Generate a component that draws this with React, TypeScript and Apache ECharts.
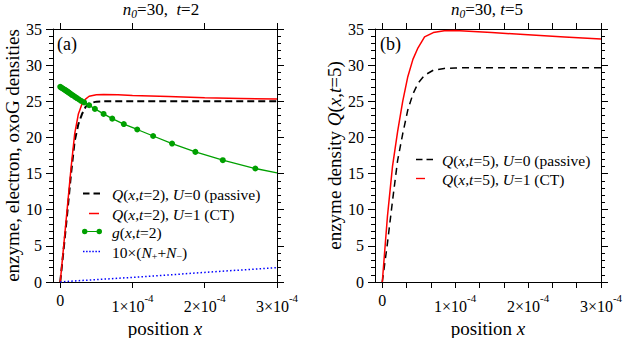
import React, { useEffect, useRef } from 'react';
import * as echarts from 'echarts';

const FONT = 'Liberation Serif';

// positions in units of 1e-4
const xMajorTicks = [0, 1, 2, 3];
const xThirdTicks = [0, 1 / 3, 2 / 3, 1, 4 / 3, 5 / 3, 2, 7 / 3, 8 / 3, 3];

// panel (a), t = 2
const passiveA_x = [0, 0.05, 0.1, 0.15, 0.2, 0.25, 0.3, 0.35, 0.4, 0.5, 0.6, 1.0, 2.0, 3.0];
const passiveA_y = [0, 4.8, 9.8, 15.0, 19.5, 21.8, 23.2, 24.2, 24.7, 24.95, 25.0, 25.0, 25.0, 25.0];

const ctA_x = [0, 0.05, 0.1, 0.15, 0.2, 0.25, 0.3, 0.35, 0.4, 0.5, 0.6, 0.8, 1.0, 1.5, 2.0, 2.5, 3.0];
const ctA_y = [0, 5.2, 10.5, 15.8, 20.5, 23.2, 24.6, 25.3, 25.7, 25.9, 25.95, 25.9, 25.8, 25.65, 25.5, 25.4, 25.3];

const gA_x = [0, 0.015, 0.03, 0.045, 0.06, 0.075, 0.09, 0.105, 0.12, 0.14, 0.16, 0.18, 0.205, 0.23, 0.26, 0.29, 0.33, 0.4, 0.48, 0.6, 0.72, 0.88, 1.066, 1.286, 1.548, 1.87, 2.25, 2.7, 3.0];
const gA_y = [27.0, 26.9, 26.8, 26.7, 26.6, 26.5, 26.4, 26.3, 26.2, 26.05, 25.9, 25.8, 25.6, 25.45, 25.25, 25.05, 24.85, 24.45, 23.95, 23.25, 22.6, 21.85, 21.1, 20.2, 19.15, 18.0, 16.85, 15.7, 15.1];

const nA_x = [0, 0.1, 0.25, 0.5, 1.0, 1.5, 2.0, 2.5, 3.0];
const nA_y = [0, 0.08, 0.18, 0.33, 0.64, 0.98, 1.33, 1.66, 1.98];

// panel (b), t = 5
const passiveB_x = [0, 0.07, 0.14, 0.21, 0.28, 0.35, 0.42, 0.49, 0.58, 0.7, 0.85, 1.0, 1.5, 3.0];
const passiveB_y = [0, 5.3, 11.2, 16.8, 20.5, 23.8, 26.0, 27.5, 28.6, 29.3, 29.55, 29.62, 29.65, 29.65];

const ctB_x = [0, 0.07, 0.14, 0.21, 0.28, 0.35, 0.42, 0.49, 0.58, 0.7, 0.85, 1.0, 1.5, 2.0, 2.5, 3.0];
const ctB_y = [0, 9.0, 16.0, 20.8, 25.0, 28.4, 30.8, 32.4, 33.9, 34.5, 34.75, 34.8, 34.5, 34.2, 33.9, 33.6];

const zip = (xs: number[], ys: number[]) => xs.map((x, i) => [x, ys[i]]);

const NAME_PA = 'Q(x,t=2), U=0 (passive)';
const NAME_CA = 'Q(x,t=2), U=1 (CT)';
const NAME_GA = 'g(x,t=2)';
const NAME_NA = '10x(N+ + N-)';
const NAME_PB = 'Q(x,t=5), U=0 (passive)';
const NAME_CB = 'Q(x,t=5), U=1 (CT)';

const ICON_DASH_BOLD = 'path://M0,0H6.5V2H0ZM10.5,0H17V2H10.5Z';
const ICON_DASH_THIN = 'path://M0,0H6.5V1.5H0ZM10.5,0H17V1.5H10.5Z';
const ICON_SOLID = 'path://M0,0H10V1.5H0Z';
const ICON_DOTS = 'path://M0,0h1.5v1.5h-1.5ZM3.1,0h1.5v1.5h-1.5ZM6.2,0h1.5v1.5h-1.5ZM9.3,0h1.5v1.5h-1.5ZM12.4,0h1.5v1.5h-1.5ZM15.5,0h1.5v1.5h-1.5Z';
const ICON_DOTLINE = 'path://M0,3A3,3 0 1 0 6,3A3,3 0 1 0 0,3ZM6,2.4H16V3.6H6ZM16,3A3,3 0 1 0 22,3A3,3 0 1 0 16,3Z';

const LFS = 15.5;
const legendRich = {
  r: { fontFamily: FONT, fontSize: LFS, lineHeight: 15, verticalAlign: 'top', color: '#000' },
  i: { fontFamily: FONT, fontSize: LFS, lineHeight: 15, fontStyle: 'italic', verticalAlign: 'top', color: '#000' },
  sub: { fontFamily: FONT, fontSize: 10, lineHeight: 10, padding: [7, 0, 0, 0], verticalAlign: 'top', color: '#000' },
  sp1: { width: 7, fontSize: LFS, lineHeight: 15, verticalAlign: 'top' },
  sp2: { width: 8, fontSize: LFS, lineHeight: 15, verticalAlign: 'top' },
  sp3: { width: 5, fontSize: LFS, lineHeight: 15, verticalAlign: 'top' },
  sp4: { width: 4, fontSize: LFS, lineHeight: 15, verticalAlign: 'top' },
  sp5: { width: 12, fontSize: LFS, lineHeight: 15, verticalAlign: 'top' },
};

const legendText: Record<string, string> = {
  [NAME_PA]: '{sp1| }{i|Q}{r|(}{i|x}{r|,}{i|t}{r|=2), }{i|U}{r|=0 (passive)}',
  [NAME_CA]: '{sp2| }{i|Q}{r|(}{i|x}{r|,}{i|t}{r|=2), }{i|U}{r|=1 (CT)}',
  [NAME_GA]: '{sp3| }{i|g}{r|(}{i|x}{r|,}{i|t}{r|=2)}',
  [NAME_NA]: '{sp1| }{r|10×(}{i|N}{sub|+}{r|+}{i|N}{sub|−}{r|)}',
  [NAME_PB]: '{sp4| }{i|Q}{r|(}{i|x}{r|,}{i|t}{r|=5), }{i|U}{r|=0 (passive)}',
  [NAME_CB]: '{sp5| }{i|Q}{r|(}{i|x}{r|,}{i|t}{r|=5), }{i|U}{r|=1 (CT)}',
};

const mkLegend = (name: string, left: number, top: number, itemWidth: number, icon: string) => ({
  data: [name],
  left,
  top,
  itemWidth,
  itemHeight: 14,
  padding: 0,
  icon,
  selectedMode: false,
  formatter: (n: string) => legendText[n],
  textStyle: { fontFamily: FONT, fontSize: LFS, color: '#000', rich: legendRich },
});

const xLabelFmt = (v: number) =>
  Math.abs(v) < 1e-9 ? '{z|0}' : `{m|${Math.round(v)}×10}{sup|-4}`;

const axisLineStyle = { show: true, lineStyle: { color: '#000', width: 1 } };

const nameRich = {
  r: { fontFamily: FONT, fontSize: 19, color: '#000' },
  i: { fontFamily: FONT, fontSize: 19, fontStyle: 'italic', color: '#000' },
};

const mkX = (gridIndex: number, position: 'top' | 'bottom', ticks: number[], labels: boolean) => ({
  type: 'value',
  gridIndex,
  position,
  min: -0.1,
  max: 3.0,
  axisLine: { ...axisLineStyle, onZero: false },
  splitLine: { show: false },
  axisTick: { show: true, length: 6, customValues: ticks, lineStyle: { color: '#000' } },
  axisLabel: labels
    ? {
        show: true,
        customValues: xMajorTicks,
        formatter: xLabelFmt,
        margin: 10,
        color: '#000',
        fontFamily: FONT,
        fontSize: 16,
        rich: {
          z: { fontFamily: FONT, fontSize: 16, lineHeight: 16, verticalAlign: 'top', color: '#000' },
          m: { fontFamily: FONT, fontSize: 16, lineHeight: 16, padding: [6, 0, 0, 0], verticalAlign: 'top', color: '#000' },
          sup: { fontFamily: FONT, fontSize: 11, lineHeight: 11, verticalAlign: 'top', color: '#000' },
        },
      }
    : { show: false },
  name: labels ? '{r|position }{i|x}' : '',
  nameLocation: 'middle',
  nameGap: 29,
  nameTextStyle: { fontFamily: FONT, fontSize: 19, color: '#000', rich: nameRich },
});

const mkY = (gridIndex: number, position: 'left' | 'right', name: string, nameGap: number) => ({
  type: 'value',
  gridIndex,
  position,
  min: 0,
  max: 35,
  interval: 5,
  axisLine: { ...axisLineStyle, onZero: false },
  splitLine: { show: false },
  axisTick: { show: true, length: 7, lineStyle: { color: '#000' } },
  minorTick: { show: true, splitNumber: 5, length: 4, lineStyle: { color: '#000' } },
  minorSplitLine: { show: false },
  axisLabel: position === 'left'
    ? { show: true, margin: 11, color: '#000', fontFamily: FONT, fontSize: 16 }
    : { show: false },
  name,
  nameLocation: 'middle',
  nameGap,
  nameTextStyle: { fontFamily: FONT, fontSize: 19, color: '#000', rich: nameRich },
});

const titleRich = {
  r: { fontFamily: FONT, fontSize: 17, lineHeight: 17, verticalAlign: 'top', fill: '#000', color: '#000' },
  i: { fontFamily: FONT, fontSize: 17, lineHeight: 17, fontStyle: 'italic', verticalAlign: 'top', fill: '#000', color: '#000' },
  isub: { fontFamily: FONT, fontSize: 11.5, lineHeight: 11, fontStyle: 'italic', padding: [7, 0, 0, 0], verticalAlign: 'top', fill: '#000', color: '#000' },
};

export default function App() {
  const ref = useRef<HTMLDivElement>(null);
  useEffect(() => {
    if (!ref.current) return;
    const chart = echarts.init(ref.current, undefined, { renderer: 'svg' });
    const gData = zip(gA_x, gA_y).map((p, i, arr) =>
      i === arr.length - 1 ? { value: p, symbol: 'none' } : { value: p }
    );
    const option: any = {
      animation: false,
      textStyle: { fontFamily: FONT },
      grid: [
        { left: 53, top: 29, width: 224, height: 253, outerBoundsMode: 'none', containLabel: false },
        { left: 375, top: 29, width: 226, height: 253, outerBoundsMode: 'none', containLabel: false },
      ],
      xAxis: [
        mkX(0, 'bottom', xMajorTicks, true),
        mkX(0, 'top', xMajorTicks, false),
        mkX(1, 'bottom', xThirdTicks, true),
        mkX(1, 'top', xThirdTicks, false),
      ],
      yAxis: [
        mkY(0, 'left', 'enzyme, electron, oxoG densities', 27),
        mkY(0, 'right', '', 0),
        mkY(1, 'left', '{r|enzyme density }{i|Q}{r|(}{i|x}{r|,}{i|t}{r|=5)}', 31),
        mkY(1, 'right', '', 0),
      ],
      legend: [
        mkLegend(NAME_PA, 83, 186, 17, ICON_DASH_BOLD),
        mkLegend(NAME_CA, 89, 206, 10, ICON_SOLID),
        mkLegend(NAME_GA, 82, 224, 20, ICON_DOTLINE),
        mkLegend(NAME_NA, 83, 244, 17, ICON_DOTS),
        mkLegend(NAME_PB, 416, 152, 17, ICON_DASH_THIN),
        mkLegend(NAME_CB, 416, 171, 9, ICON_SOLID),
      ],
      graphic: [
        {
          type: 'text', x: 161, y: 1,
          style: { text: '{i|n}{isub|0}{r|=30,  }{i|t}{r|=2}', align: 'center', verticalAlign: 'top', rich: titleRich, fill: '#000', fontFamily: FONT, fontSize: 17 },
        },
        {
          type: 'text', x: 487, y: 1,
          style: { text: '{i|n}{isub|0}{r|=30, }{i|t}{r|=5}', align: 'center', verticalAlign: 'top', rich: titleRich, fill: '#000', fontFamily: FONT, fontSize: 17 },
        },
        {
          type: 'text', x: 57, y: 44,
          style: { text: '(a)', align: 'left', verticalAlign: 'middle', fill: '#000', fontFamily: FONT, fontSize: 18 },
        },
        {
          type: 'text', x: 380, y: 44,
          style: { text: '(b)', align: 'left', verticalAlign: 'middle', fill: '#000', fontFamily: FONT, fontSize: 18 },
        },
      ],
      series: [
        {
          name: NAME_PA, type: 'line', xAxisIndex: 0, yAxisIndex: 0, symbol: 'none',
          data: zip(passiveA_x, passiveA_y),
          lineStyle: { color: '#000', width: 2, type: [7, 4] }, itemStyle: { color: '#000' },
        },
        {
          name: NAME_CA, type: 'line', xAxisIndex: 0, yAxisIndex: 0, symbol: 'none',
          data: zip(ctA_x, ctA_y),
          lineStyle: { color: '#ff0000', width: 1.5 }, itemStyle: { color: '#ff0000' },
        },
        {
          name: NAME_GA, type: 'line', xAxisIndex: 0, yAxisIndex: 0, symbol: 'circle', symbolSize: 6,
          data: gData,
          lineStyle: { color: '#00a000', width: 1.3 }, itemStyle: { color: '#00a000' },
        },
        {
          name: NAME_NA, type: 'line', xAxisIndex: 0, yAxisIndex: 0, symbol: 'none',
          data: zip(nA_x, nA_y),
          lineStyle: { color: '#0000ff', width: 1.5, type: [1.5, 2.2] }, itemStyle: { color: '#0000ff' },
        },
        {
          name: NAME_PB, type: 'line', xAxisIndex: 2, yAxisIndex: 2, symbol: 'none',
          data: zip(passiveB_x, passiveB_y),
          lineStyle: { color: '#000', width: 1.5, type: [7, 5] }, itemStyle: { color: '#000' },
        },
        {
          name: NAME_CB, type: 'line', xAxisIndex: 2, yAxisIndex: 2, symbol: 'none',
          data: zip(ctB_x, ctB_y),
          lineStyle: { color: '#ff0000', width: 1.5 }, itemStyle: { color: '#ff0000' },
        },
      ],
    };
    chart.setOption(option);
    return () => chart.dispose();
  }, []);
  return (
    <div
      ref={ref}
      style={{ position: 'fixed', left: 0, top: 0, width: 623, height: 338, background: '#fff' }}
    />
  );
}
